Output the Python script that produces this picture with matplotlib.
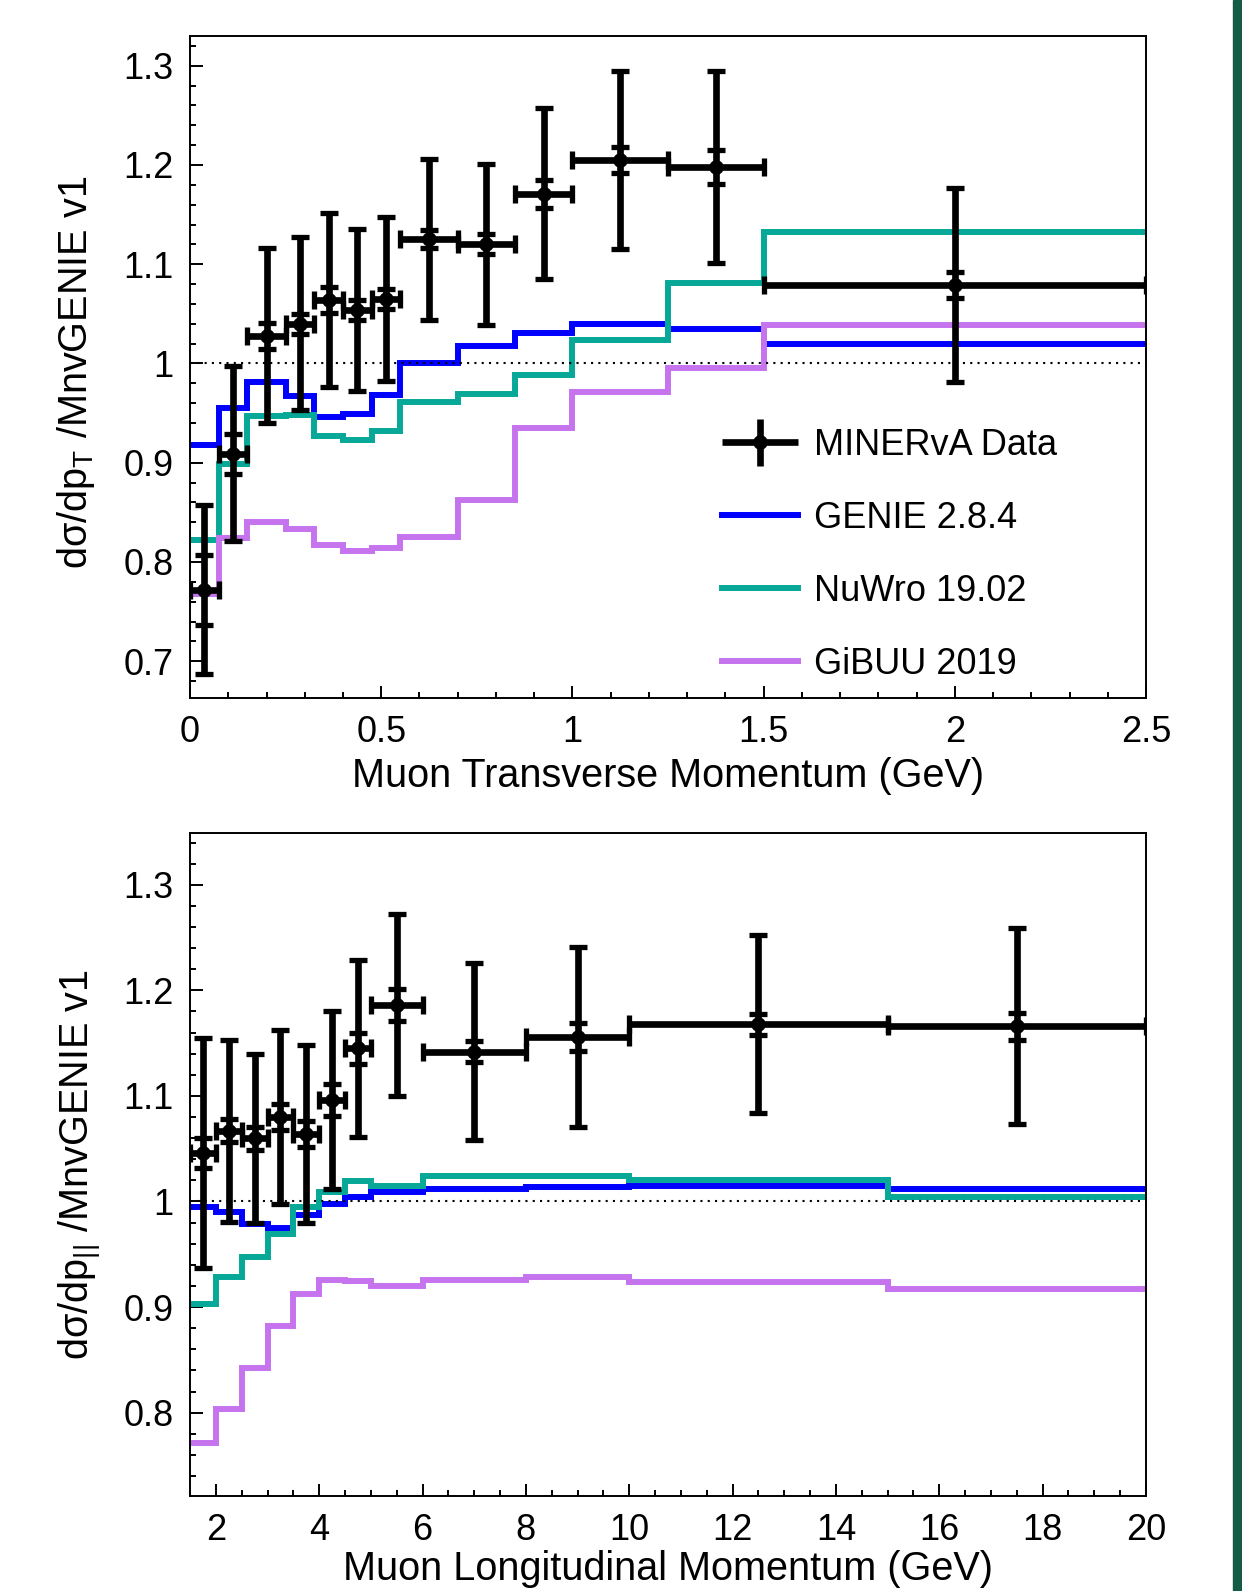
import numpy as np
import matplotlib
matplotlib.use('Agg')
import matplotlib.pyplot as plt
from matplotlib.ticker import MultipleLocator, FuncFormatter
from matplotlib.legend_handler import HandlerErrorbar
from matplotlib.patches import Rectangle

plt.rcParams['font.family'] = ['Liberation Sans', 'DejaVu Sans']
plt.rcParams['mathtext.fontset'] = 'custom'
plt.rcParams['mathtext.rm'] = 'Liberation Sans'
plt.rcParams['mathtext.it'] = 'Liberation Sans:italic'

# muon transverse momentum (GeV)
pt_edges = [0, 0.075, 0.15, 0.25, 0.325, 0.4, 0.475, 0.55, 0.7, 0.85, 1.0, 1.25, 1.5, 2.5]
pt_data = [0.772, 0.909, 1.028, 1.040, 1.064, 1.054, 1.065, 1.125, 1.120, 1.171, 1.205, 1.198, 1.079]
pt_tot = [0.085, 0.088, 0.088, 0.087, 0.088, 0.082, 0.083, 0.081, 0.081, 0.086, 0.090, 0.097, 0.098]
pt_stat = [0.035, 0.020, 0.013, 0.010, 0.013, 0.010, 0.010, 0.009, 0.010, 0.014, 0.013, 0.017, 0.013]
pt_genie = [0.918, 0.955, 0.981, 0.967, 0.946, 0.949, 0.968, 1.000, 1.018, 1.031, 1.040, 1.035, 1.020]
pt_nuwro = [0.822, 0.899, 0.947, 0.948, 0.927, 0.923, 0.932, 0.961, 0.969, 0.988, 1.024, 1.081, 1.132]
pt_gibuu = [0.768, 0.824, 0.840, 0.833, 0.817, 0.811, 0.814, 0.825, 0.862, 0.935, 0.971, 0.995, 1.039]

# muon longitudinal momentum (GeV)
pl_edges = [1.5, 2, 2.5, 3, 3.5, 4, 4.5, 5, 6, 8, 10, 15, 20]
pl_data = [1.046, 1.067, 1.060, 1.080, 1.064, 1.096, 1.145, 1.186, 1.142, 1.156, 1.168, 1.166]
pl_tot = [0.109, 0.086, 0.080, 0.082, 0.084, 0.084, 0.084, 0.086, 0.084, 0.085, 0.084, 0.093]
pl_stat = [0.014, 0.011, 0.011, 0.012, 0.012, 0.015, 0.015, 0.015, 0.010, 0.013, 0.010, 0.013]
pl_genie = [0.995, 0.990, 0.979, 0.975, 0.987, 0.998, 1.004, 1.009, 1.012, 1.014, 1.015, 1.012]
pl_nuwro = [0.903, 0.928, 0.947, 0.969, 0.995, 1.009, 1.019, 1.015, 1.024, 1.024, 1.020, 1.004]
pl_gibuu = [0.771, 0.803, 0.842, 0.882, 0.912, 0.926, 0.925, 0.920, 0.926, 0.928, 0.924, 0.917]

labels = ['MINERvA Data', 'GENIE 2.8.4', 'NuWro 19.02', 'GiBUU 2019']
colors = ['#0000FF', '#07A898', '#C674EE']

FS = 26      # tick + legend text
LFS = 28.5   # axis titles
LW = 4.3     # model lines
DLW = 4.8    # data error bars

fig = plt.figure(figsize=(12.42, 15.91), dpi=100)
ax1 = fig.add_axes([0.153, 0.5613, 0.7697, 0.4161])
ax2 = fig.add_axes([0.153, 0.0597, 0.7697, 0.4167])

# dark green stripe on the right edge
fig.patches.append(Rectangle((1233 / 1242, 0), 1 - 1233 / 1242, 1, transform=fig.transFigure,
                             color='#135B45', zorder=0))


def draw_panel(ax, edges, data, tot, stat, models):
    edges = np.array(edges)
    centers = 0.5 * (edges[1:] + edges[:-1])
    half = 0.5 * (edges[1:] - edges[:-1])
    for vals, c in zip(models, colors):
        ax.stairs(vals, edges, color=c, lw=LW, baseline=None, joinstyle='miter', zorder=2)
    ax.axhline(1.0, color='black', lw=1.5, ls=(0, (1, 2.5)), zorder=3)
    ax.errorbar(centers, data, xerr=half, yerr=tot, fmt='o', color='black', ms=9.5,
                elinewidth=DLW, capsize=6.5, capthick=3.8, zorder=4)
    ax.errorbar(centers, data, yerr=stat, fmt='none', ecolor='black', elinewidth=0,
                capsize=6.5, capthick=3.8, zorder=4)
    ax.tick_params(which='both', direction='in', top=False, right=False,
                   labelsize=FS, width=1.4)
    ax.tick_params(which='major', length=9, pad=12)
    ax.tick_params(which='minor', length=4.5)
    ax.yaxis.set_major_locator(MultipleLocator(0.1))
    ax.yaxis.set_minor_locator(MultipleLocator(0.02))
    fmt = FuncFormatter(lambda v, p: '%g' % round(v, 3))
    ax.xaxis.set_major_formatter(fmt)
    ax.yaxis.set_major_formatter(fmt)
    for s in ax.spines.values():
        s.set_linewidth(1.4)


draw_panel(ax1, pt_edges, pt_data, pt_tot, pt_stat, [pt_genie, pt_nuwro, pt_gibuu])
ax1.set_xlim(0, 2.5)
ax1.set_ylim(0.663, 1.33)
ax1.xaxis.set_major_locator(MultipleLocator(0.5))
ax1.xaxis.set_minor_locator(MultipleLocator(0.1))

draw_panel(ax2, pl_edges, pl_data, pl_tot, pl_stat, [pl_genie, pl_nuwro, pl_gibuu])
ax2.set_xlim(1.5, 20)
ax2.set_ylim(0.721, 1.349)
ax2.xaxis.set_major_locator(MultipleLocator(2))
ax2.xaxis.set_minor_locator(MultipleLocator(0.5))

# legend (top panel)
h_data = ax1.errorbar([], [], xerr=[], yerr=[], fmt='o', color='black', ms=9.5,
                      elinewidth=DLW, capsize=0)
h_models = [plt.Line2D([], [], color=c, lw=LW) for c in colors]
ax1.legend([h_data] + h_models, labels, loc='upper left', bbox_to_anchor=(0.5565, 0.408),
           frameon=False, fontsize=FS, handlelength=2.1, handletextpad=0.46,
           labelspacing=1.05, borderpad=0, borderaxespad=0, numpoints=1,
           handler_map={type(h_data): HandlerErrorbar(xerr_size=1.05, yerr_size=0.65)})

fig.text(0.538, 1 - 776 / 1591, 'Muon Transverse Momentum (GeV)', fontsize=LFS,
         ha='center', va='center')
fig.text(0.538, 1 - 1569 / 1591, 'Muon Longitudinal Momentum (GeV)', fontsize=LFS,
         ha='center', va='center')
fig.text(76 / 1242, 1 - 372 / 1591, 'dσ/dp$_{\\mathregular{T}}$ /MnvGENIE v1', fontsize=LFS,
         rotation=90, ha='center', va='center')
fig.text(80 / 1242, 1 - 1165 / 1591, 'dσ/dp$_{\\mathregular{||}}$ /MnvGENIE v1', fontsize=LFS,
         rotation=90, ha='center', va='center')

fig.savefig('out.png', dpi=100)
